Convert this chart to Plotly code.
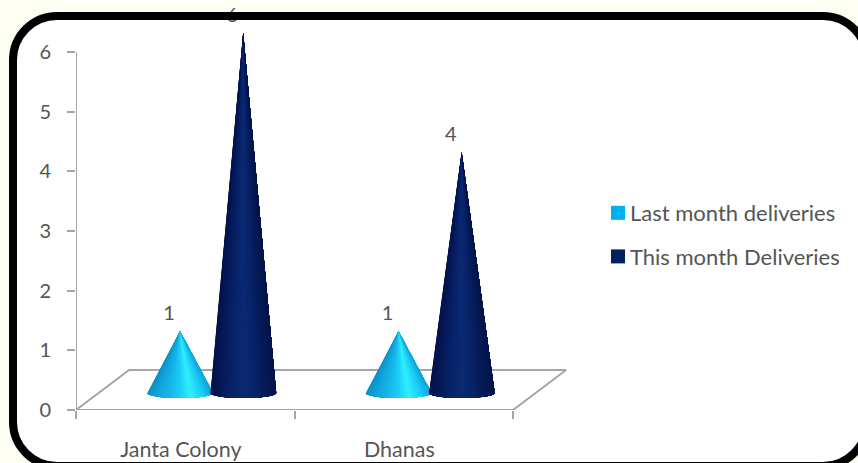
import plotly.graph_objects as go
import math

W, H = 858, 463
L, R, T, B = 76, 848, 20, 410
UNIT_X = 218.5   # px per category
UNIT_Y = 59.67   # px per value unit

categories = ["Janta Colony", "Dhanas"]
last_month = [1, 1]
this_month = [6, 4]
series_names = ["Last month deliveries", "This month Deliveries"]
y_ticks = [0, 1, 2, 3, 4, 5, 6]

light_ramp = ["#0a90c8", "#10a6de", "#16b6ea", "#1ccef6", "#2ef0ff", "#1ccef6", "#0ea2da"]
dark_ramp = ["#03134a", "#05195a", "#08246a", "#0a2a72", "#08246a", "#051a56", "#031448"]
legend_colors = ["#00b0f0", "#002060"]

FLOOR_DX, FLOOR_DY = 0.243, 0.67
BASE_Y = 0.285
TIP_Y = 0.32
LABEL_Y = 0.42
HALF_W, HALF_H = 0.151, 0.085
OFFSETS = [0.476, 0.765]
N = 40
AXIS = "#a6a6a6"
TEXT = "#555555"


def mix(ramp, t):
    p = t * (len(ramp) - 1)
    i = min(int(p), len(ramp) - 2)
    f = p - i
    a = [int(ramp[i][j:j + 2], 16) for j in (1, 3, 5)]
    b = [int(ramp[i + 1][j:j + 2], 16) for j in (1, 3, 5)]
    return "rgb(%d,%d,%d)" % tuple(round(u + (v - u) * f) for u, v in zip(a, b))


def cone_traces(cx, value, ramp):
    # painter's algorithm: each step repaints the rest of the cone, so no seams appear
    out = []
    tip = TIP_Y + value
    for k in range(N):
        t = (k + 0.5) / N
        angles = [math.pi * (1 - k / N) * (1 - j / 24) for j in range(25)]
        xs = [cx] + [cx + HALF_W * math.cos(a) for a in angles] + [cx]
        ys = [tip] + [BASE_Y - HALF_H * math.sin(a) for a in angles] + [tip]
        c = mix(ramp, (1 - math.cos(math.pi * t)) / 2)
        out.append(go.Scatter(
            x=xs, y=ys, mode="lines", fill="toself", fillcolor=c,
            line=dict(color=c, width=0), hoverinfo="skip", showlegend=False))
    return out


fig = go.Figure()

# axis lines and the floor of the 3D chart
fig.add_trace(go.Scatter(
    x=[0, 0, None, 0, FLOOR_DX, 2 + FLOOR_DX, 2, 0],
    y=[6, 0, None, 0, FLOOR_DY, FLOOR_DY, 0, 0],
    mode="lines", line=dict(color=AXIS, width=2),
    hoverinfo="skip", showlegend=False))

for i, cat in enumerate(categories):
    for tr in cone_traces(i + OFFSETS[0], last_month[i], light_ramp):
        fig.add_trace(tr)
    for tr in cone_traces(i + OFFSETS[1], this_month[i], dark_ramp):
        fig.add_trace(tr)

# value labels
label_x = [i + OFFSETS[s] - 0.05 for i in range(2) for s in range(2)]
label_v = [v for pair in zip(last_month, this_month) for v in pair]
fig.add_trace(go.Scatter(
    x=label_x, y=[v + LABEL_Y for v in label_v], text=[str(v) for v in label_v],
    mode="text", textposition="top center",
    textfont=dict(family="Lato", size=20, color=TEXT),
    hoverinfo="skip", showlegend=False, cliponaxis=False))

for name, col in zip(series_names, legend_colors):
    fig.add_trace(go.Scatter(
        x=[None], y=[None], name=name, legendgroup=name, mode="markers",
        marker=dict(symbol="square", size=14, color=col)))


def px(x):
    return (x - L) / (R - L)


def py(y):
    return (B - y) / (B - T)


def rrect(x0, y0, x1, y1, r):
    k = 0.45 * r
    pts = [
        ("M", (x0 + r, y0)), ("L", (x1 - r, y0)),
        ("C", (x1 - k, y0), (x1, y0 + k), (x1, y0 + r)),
        ("L", (x1, y1 - r)),
        ("C", (x1, y1 - k), (x1 - k, y1), (x1 - r, y1)),
        ("L", (x0 + r, y1)),
        ("C", (x0 + k, y1), (x0, y1 - k), (x0, y1 - r)),
        ("L", (x0, y0 + r)),
        ("C", (x0, y0 + k), (x0 + k, y0), (x0 + r, y0)),
    ]
    s = ""
    for p in pts:
        s += p[0] + " ".join("%.5f,%.5f" % (px(a), py(b)) for a, b in p[1:]) + " "
    return s + "Z"


frame = rrect(13, 16, 867, 466, 44)
shapes = [
    dict(type="path", path=frame, xref="paper", yref="paper", layer="below",
         fillcolor="#ffffff", line=dict(width=0)),
    dict(type="path", path=frame, xref="paper", yref="paper", layer="above",
         line=dict(color="#000000", width=8)),
]

fig.update_layout(
    width=W, height=H, autosize=False,
    margin=dict(l=L, r=W - R, t=T, b=H - B, autoexpand=False),
    paper_bgcolor="#fffef2", plot_bgcolor="rgba(0,0,0,0)",
    shapes=shapes,
    font=dict(family="Lato", size=20, color=TEXT),
    showlegend=True,
    legend=dict(x=px(590), y=py(192), xanchor="left", yanchor="top",
                bgcolor="rgba(0,0,0,0)", tracegroupgap=12, itemwidth=30,
                font=dict(family="Lato", size=22, color=TEXT)),
    xaxis=dict(range=[0, (R - L) / UNIT_X], showgrid=False, zeroline=False,
               showline=False, ticks="", tickvals=[0.48, 1.48], ticktext=categories,
               automargin=False,
               tickfont=dict(family="Lato", size=21.5, color=TEXT), ticklabelstandoff=24,
               minor=dict(tickvals=[0, 1, 2], ticks="outside", ticklen=8,
                          tickcolor=AXIS, tickwidth=2, showgrid=False)),
    yaxis=dict(range=[0, (B - T) / UNIT_Y], showgrid=False, zeroline=False,
               showline=False, ticks="outside", ticklen=8, automargin=False,
               tickcolor=AXIS, tickwidth=2, tickvals=y_ticks,
               tickfont=dict(family="Lato", size=20, color=TEXT),
               ticklabelstandoff=12),
)

fig.write_html("out.html", config=dict(displayModeBar=False),
               post_script=("document.body.style.margin='0';"
                            "document.body.style.overflow='hidden';"
                            "document.documentElement.style.overflow='hidden';"
                            "document.querySelectorAll('.legendsymbols').forEach("
                            "function(g){g.setAttribute('transform','translate(8,0)');});"))
